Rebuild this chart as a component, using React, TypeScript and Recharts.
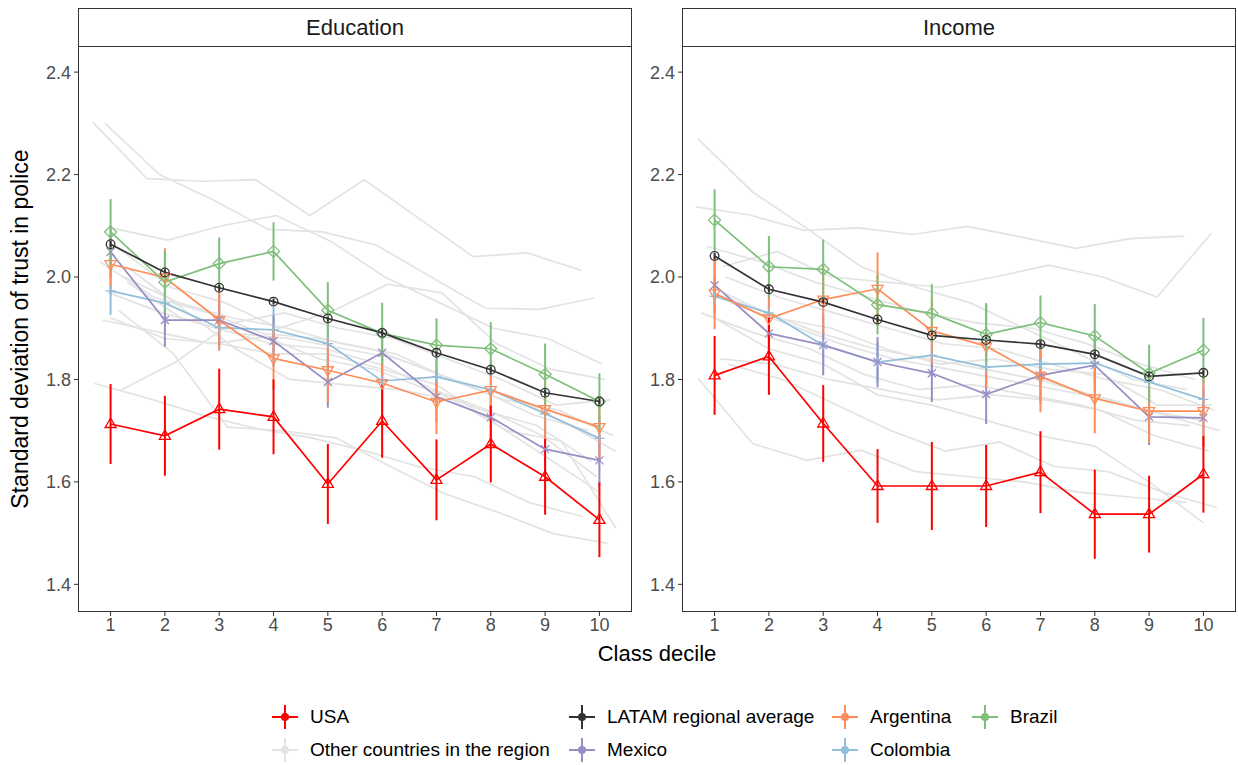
import React from 'react';
import { LineChart, Line, XAxis, YAxis, ErrorBar } from 'recharts';

const DECILES = [1, 2, 3, 4, 5, 6, 7, 8, 9, 10];
const Y_TICKS = [1.4, 1.6, 1.8, 2.0, 2.2, 2.4];

// Education panel
const EDU_USA = [1.713, 1.69, 1.742, 1.727, 1.596, 1.719, 1.604, 1.674, 1.61, 1.526];
const EDU_USA_ERR = [0.078, 0.078, 0.079, 0.073, 0.078, 0.072, 0.079, 0.075, 0.074, 0.073];
const EDU_LATAM = [2.064, 2.009, 1.979, 1.952, 1.919, 1.891, 1.852, 1.819, 1.774, 1.757];
const EDU_LATAM_ERR = [0.006, 0.006, 0.006, 0.006, 0.006, 0.006, 0.006, 0.006, 0.006, 0.006];
const EDU_ARG = [2.025, 1.999, 1.916, 1.841, 1.818, 1.793, 1.756, 1.779, 1.742, 1.707];
const EDU_ARG_ERR = [0.058, 0.057, 0.058, 0.06, 0.062, 0.062, 0.063, 0.06, 0.062, 0.06];
const EDU_BRA = [2.088, 1.99, 2.026, 2.05, 1.935, 1.89, 1.867, 1.86, 1.81, 1.757];
const EDU_BRA_ERR = [0.064, 0.06, 0.051, 0.057, 0.055, 0.06, 0.052, 0.052, 0.06, 0.055];
const EDU_MEX = [2.049, 1.916, 1.916, 1.875, 1.795, 1.852, 1.766, 1.726, 1.664, 1.642];
const EDU_MEX_ERR = [0.05, 0.052, 0.05, 0.05, 0.05, 0.052, 0.05, 0.05, 0.05, 0.05];
const EDU_COL = [1.973, 1.949, 1.901, 1.897, 1.87, 1.797, 1.805, 1.78, 1.733, 1.685];
const EDU_COL_ERR = [0.047, 0.045, 0.045, 0.045, 0.045, 0.045, 0.045, 0.045, 0.045, 0.045];

// other countries (education), each with its dodge offset
const EDU_OTHER_OFFSETS = [-0.33, -0.1, 0.05, 0.1, -0.2, 0.25, 0.3, -0.15, 0.2, -0.3, 0.15, 0.0, -0.05, 0.3];
const EDU_OTHER = [
  [2.303, 2.192, 2.187, 2.19, 2.12, 2.19, 2.115, 2.04, 2.047, 2.013],
  [2.3, 2.2, 2.15, 2.093, 2.088, 2.062, 2.0, 1.939, 1.937, 1.959],
  [2.095, 2.072, 2.1, 2.12, 2.07, 2.0, 1.95, 1.9, 1.88, 1.83],
  [2.06, 1.98, 1.95, 1.9, 1.934, 1.986, 1.969, 1.87, 1.82, 1.8],
  [2.03, 1.96, 1.93, 1.89, 1.88, 1.86, 1.82, 1.78, 1.73, 1.7],
  [2.0, 1.95, 1.92, 1.9, 1.87, 1.85, 1.8, 1.76, 1.74, 1.69],
  [1.99, 1.92, 1.89, 1.88, 1.86, 1.84, 1.8, 1.77, 1.72, 1.66],
  [1.916, 1.893, 1.87, 1.883, 1.84, 1.82, 1.78, 1.74, 1.71, 1.64],
  [1.78, 1.834, 1.909, 1.93, 1.9, 1.88, 1.84, 1.8, 1.75, 1.76],
  [1.792, 1.763, 1.73, 1.704, 1.686, 1.66, 1.629, 1.61, 1.56, 1.532],
  [1.935, 1.851, 1.707, 1.7, 1.686, 1.63, 1.577, 1.54, 1.499, 1.48],
  [1.92, 1.88, 1.87, 1.85, 1.85, 1.82, 1.79, 1.72, 1.65, 1.58],
  [1.97, 1.93, 1.9, 1.87, 1.86, 1.83, 1.78, 1.74, 1.69, 1.61],
  [2.02, 1.94, 1.86, 1.8, 1.79, 1.78, 1.76, 1.7, 1.68, 1.51],
];

// Income panel
const INC_USA = [1.808, 1.845, 1.714, 1.592, 1.592, 1.592, 1.619, 1.537, 1.537, 1.615];
const INC_USA_ERR = [0.077, 0.075, 0.075, 0.072, 0.086, 0.08, 0.08, 0.087, 0.075, 0.075];
const INC_LATAM = [2.041, 1.976, 1.951, 1.917, 1.886, 1.877, 1.869, 1.849, 1.806, 1.813];
const INC_LATAM_ERR = [0.006, 0.006, 0.006, 0.006, 0.006, 0.006, 0.006, 0.006, 0.006, 0.006];
const INC_ARG = [1.968, 1.919, 1.956, 1.977, 1.895, 1.865, 1.806, 1.763, 1.738, 1.738];
const INC_ARG_ERR = [0.07, 0.07, 0.068, 0.071, 0.064, 0.08, 0.07, 0.068, 0.062, 0.07];
const INC_BRA = [2.111, 2.02, 2.015, 1.946, 1.929, 1.888, 1.911, 1.885, 1.812, 1.857];
const INC_BRA_ERR = [0.06, 0.06, 0.058, 0.058, 0.057, 0.061, 0.053, 0.062, 0.056, 0.063];
const INC_MEX = [1.984, 1.89, 1.867, 1.834, 1.812, 1.771, 1.808, 1.828, 1.727, 1.725];
const INC_MEX_ERR = [0.055, 0.055, 0.059, 0.049, 0.056, 0.058, 0.055, 0.055, 0.055, 0.055];
const INC_COL = [1.962, 1.93, 1.867, 1.834, 1.847, 1.824, 1.83, 1.832, 1.795, 1.761];
const INC_COL_ERR = [0.04, 0.04, 0.04, 0.04, 0.04, 0.04, 0.04, 0.04, 0.04, 0.04];

const INC_OTHER_OFFSETS = [-0.3, -0.35, 0.15, -0.15, 0.2, -0.05, 0.3, -0.25, 0.1, -0.3, 0.25, 0.0, 0.15];
const INC_OTHER = [
  [2.269, 2.166, 2.095, 2.02, 1.98, 1.95, 1.9, 1.85, 1.8, 1.78],
  [2.137, 2.121, 2.091, 2.096, 2.083, 2.099, 2.078, 2.056, 2.075, 2.08],
  [2.02, 2.05, 2.0, 1.99, 1.98, 2.0, 2.023, 2.0, 1.961, 2.086],
  [2.06, 2.03, 1.99, 1.96, 1.93, 1.91, 1.9, 1.87, 1.83, 1.8],
  [2.0, 1.96, 1.93, 1.9, 1.87, 1.86, 1.83, 1.8, 1.78, 1.74],
  [1.97, 1.93, 1.89, 1.86, 1.84, 1.82, 1.8, 1.77, 1.74, 1.72],
  [1.95, 1.91, 1.87, 1.84, 1.82, 1.8, 1.78, 1.76, 1.73, 1.7],
  [1.93, 1.89, 1.86, 1.81, 1.78, 1.79, 1.77, 1.75, 1.72, 1.71],
  [1.84, 1.83, 1.8, 1.78, 1.76, 1.77, 1.76, 1.74, 1.69, 1.66],
  [1.802, 1.675, 1.642, 1.662, 1.62, 1.61, 1.6, 1.58, 1.57, 1.56],
  [1.83, 1.8, 1.75, 1.7, 1.66, 1.678, 1.63, 1.62, 1.58, 1.55],
  [1.92, 1.86, 1.83, 1.77, 1.75, 1.72, 1.69, 1.67, 1.6, 1.52],
  [1.97, 1.92, 1.9, 1.86, 1.83, 1.84, 1.82, 1.81, 1.75, 1.75],
];

const COLORS = {
  usa: '#FF0000',
  latam: '#333333',
  arg: '#FC8D59',
  bra: '#7FBF7B',
  mex: '#998EC3',
  col: '#91BFDB',
  other: '#E3E3E3',
};

const FONT = '"Liberation Sans", Arial, Helvetica, sans-serif';

const toRows = (vals: number[], errs?: number[], offset = 0) =>
  vals.map((y, i) => ({ x: DECILES[i] + offset, y, err: errs ? errs[i] : 0 }));

type Shape = 'triUp' | 'triDown' | 'circle' | 'diamond' | 'cross' | 'plus';

const Marker = ({ cx, cy, shape, color }: { cx: number; cy: number; shape: Shape; color: string }) => {
  if (cx == null || cy == null) return null;
  const sw = 1.3;
  if (shape === 'triUp')
    return <path d={`M${cx},${cy - 6} L${cx + 5.5},${cy + 3.5} L${cx - 5.5},${cy + 3.5} Z`} fill="none" stroke={color} strokeWidth={sw} />;
  if (shape === 'triDown')
    return <path d={`M${cx},${cy + 6} L${cx + 5.5},${cy - 3.5} L${cx - 5.5},${cy - 3.5} Z`} fill="none" stroke={color} strokeWidth={sw} />;
  if (shape === 'circle') return <circle cx={cx} cy={cy} r={4.3} fill="none" stroke={color} strokeWidth={sw} />;
  if (shape === 'diamond')
    return <path d={`M${cx},${cy - 6} L${cx + 6},${cy} L${cx},${cy + 6} L${cx - 6},${cy} Z`} fill="none" stroke={color} strokeWidth={sw} />;
  if (shape === 'cross')
    return <path d={`M${cx - 4},${cy - 4} L${cx + 4},${cy + 4} M${cx - 4},${cy + 4} L${cx + 4},${cy - 4}`} stroke={color} strokeWidth={sw} />;
  return <path d={`M${cx - 5},${cy} L${cx + 5},${cy} M${cx},${cy - 5} L${cx},${cy + 5}`} stroke={color} strokeWidth={sw} />;
};

interface SeriesDef {
  name: string;
  vals: number[];
  errs: number[];
  color: string;
  shape: Shape;
}

const PLOT_W = 554;
const PLOT_H = 566;
const Y_AXIS_W = 70;
const X_AXIS_H = 40;

const Panel = ({ title, left, others, offsets, series }: { title: string; left: number; others: number[][]; offsets: number[]; series: SeriesDef[] }) => (
  <>
    <div
      style={{
        position: 'absolute',
        left,
        top: 8,
        width: PLOT_W,
        height: 39,
        boxSizing: 'border-box',
        border: '1px solid #333',
        display: 'flex',
        alignItems: 'center',
        justifyContent: 'center',
        fontSize: 22,
        color: '#1a1a1a',
      }}
    >
      {title}
    </div>
    <div style={{ position: 'absolute', left: left - Y_AXIS_W, top: 46 }}>
      <LineChart width={Y_AXIS_W + PLOT_W} height={PLOT_H + X_AXIS_H} margin={{ top: 0, right: 0, bottom: 0, left: 0 }}>
        <XAxis
          dataKey="x"
          type="number"
          domain={[0.4, 10.6]}
          ticks={DECILES}
          allowDataOverflow
          axisLine={false}
          tickLine={{ stroke: '#333' }}
          tickSize={4}
          tickMargin={2}
          height={X_AXIS_H}
          tick={{ fill: '#4D4D4D', fontSize: 18, fontFamily: FONT }}
        />
        <YAxis
          type="number"
          domain={[1.346, 2.451]}
          ticks={Y_TICKS}
          allowDataOverflow
          axisLine={false}
          tickLine={{ stroke: '#333' }}
          tickSize={4}
          tickMargin={3}
          width={Y_AXIS_W}
          tickFormatter={(v: number) => v.toFixed(1)}
          tick={{ fill: '#4D4D4D', fontSize: 18, fontFamily: FONT }}
        />
        {others.map((vals, i) => (
          <Line
            key={`o${i}`}
            data={toRows(vals, undefined, offsets[i])}
            dataKey="y"
            stroke={COLORS.other}
            strokeWidth={1.7}
            dot={false}
            activeDot={false}
            isAnimationActive={false}
          />
        ))}
        {series.map((s) => (
          <Line
            key={s.name}
            data={toRows(s.vals, s.errs)}
            dataKey="y"
            stroke={s.color}
            strokeWidth={1.7}
            activeDot={false}
            isAnimationActive={false}
            dot={(p: any) => <Marker key={`${s.name}-${p.index}`} cx={p.cx} cy={p.cy} shape={s.shape} color={s.color} />}
          >
            <ErrorBar dataKey="err" width={0} stroke={s.color} strokeWidth={2} direction="y" isAnimationActive={false} />
          </Line>
        ))}
      </LineChart>
    </div>
    <div
      style={{
        position: 'absolute',
        left,
        top: 46,
        width: PLOT_W,
        height: PLOT_H,
        boxSizing: 'border-box',
        border: '1px solid #333',
        pointerEvents: 'none',
      }}
    />
  </>
);

const eduSeries: SeriesDef[] = [
  { name: 'Colombia', vals: EDU_COL, errs: EDU_COL_ERR, color: COLORS.col, shape: 'plus' },
  { name: 'Mexico', vals: EDU_MEX, errs: EDU_MEX_ERR, color: COLORS.mex, shape: 'cross' },
  { name: 'Argentina', vals: EDU_ARG, errs: EDU_ARG_ERR, color: COLORS.arg, shape: 'triDown' },
  { name: 'Brazil', vals: EDU_BRA, errs: EDU_BRA_ERR, color: COLORS.bra, shape: 'diamond' },
  { name: 'LATAM', vals: EDU_LATAM, errs: EDU_LATAM_ERR, color: COLORS.latam, shape: 'circle' },
  { name: 'USA', vals: EDU_USA, errs: EDU_USA_ERR, color: COLORS.usa, shape: 'triUp' },
];

const incSeries: SeriesDef[] = [
  { name: 'Colombia', vals: INC_COL, errs: INC_COL_ERR, color: COLORS.col, shape: 'plus' },
  { name: 'Mexico', vals: INC_MEX, errs: INC_MEX_ERR, color: COLORS.mex, shape: 'cross' },
  { name: 'Argentina', vals: INC_ARG, errs: INC_ARG_ERR, color: COLORS.arg, shape: 'triDown' },
  { name: 'Brazil', vals: INC_BRA, errs: INC_BRA_ERR, color: COLORS.bra, shape: 'diamond' },
  { name: 'LATAM', vals: INC_LATAM, errs: INC_LATAM_ERR, color: COLORS.latam, shape: 'circle' },
  { name: 'USA', vals: INC_USA, errs: INC_USA_ERR, color: COLORS.usa, shape: 'triUp' },
];

// legend, filled by column like ggplot's nrow = 2
const LEGEND_ITEMS = [
  { label: 'USA', color: COLORS.usa },
  { label: 'Other countries in the region', color: COLORS.other },
  { label: 'LATAM regional average', color: COLORS.latam },
  { label: 'Mexico', color: COLORS.mex },
  { label: 'Argentina', color: COLORS.arg },
  { label: 'Colombia', color: COLORS.col },
  { label: 'Brazil', color: COLORS.bra },
];

const LegendKey = ({ color }: { color: string }) => (
  <svg width={34} height={30}>
    <line x1={4} x2={30} y1={15} y2={15} stroke={color} strokeWidth={2} />
    <line x1={17} x2={17} y1={3} y2={27} stroke={color} strokeWidth={2} />
    <circle cx={17} cy={15} r={4} fill={color} />
  </svg>
);

export default function App() {
  return (
    <div style={{ position: 'relative', width: 1238, height: 765, background: '#fff', fontFamily: FONT, overflow: 'hidden' }}>
      <style>{'body{margin:0}'}</style>
      <Panel title="Education" left={78} others={EDU_OTHER} offsets={EDU_OTHER_OFFSETS} series={eduSeries} />
      <Panel title="Income" left={682} others={INC_OTHER} offsets={INC_OTHER_OFFSETS} series={incSeries} />
      <div
        style={{
          position: 'absolute',
          left: 20,
          top: 329,
          transform: 'translate(-50%, -50%) rotate(-90deg)',
          whiteSpace: 'nowrap',
          fontSize: 23,
          color: '#000',
        }}
      >
        Standard deviation of trust in police
      </div>
      <div
        style={{
          position: 'absolute',
          left: 657,
          top: 654,
          transform: 'translate(-50%, -50%)',
          whiteSpace: 'nowrap',
          fontSize: 22,
          color: '#000',
        }}
      >
        Class decile
      </div>
      <div
        style={{
          position: 'absolute',
          left: 268,
          top: 700,
          display: 'grid',
          gridTemplateColumns: '297px 263px 140px 120px',
          gridTemplateRows: '33px 33px',
          gridAutoFlow: 'column',
        }}
      >
        {LEGEND_ITEMS.map((it) => (
          <div key={it.label} style={{ display: 'flex', alignItems: 'center', whiteSpace: 'nowrap' }}>
            <LegendKey color={it.color} />
            <span style={{ marginLeft: 8, fontSize: 19, color: '#000' }}>{it.label}</span>
          </div>
        ))}
      </div>
    </div>
  );
}
